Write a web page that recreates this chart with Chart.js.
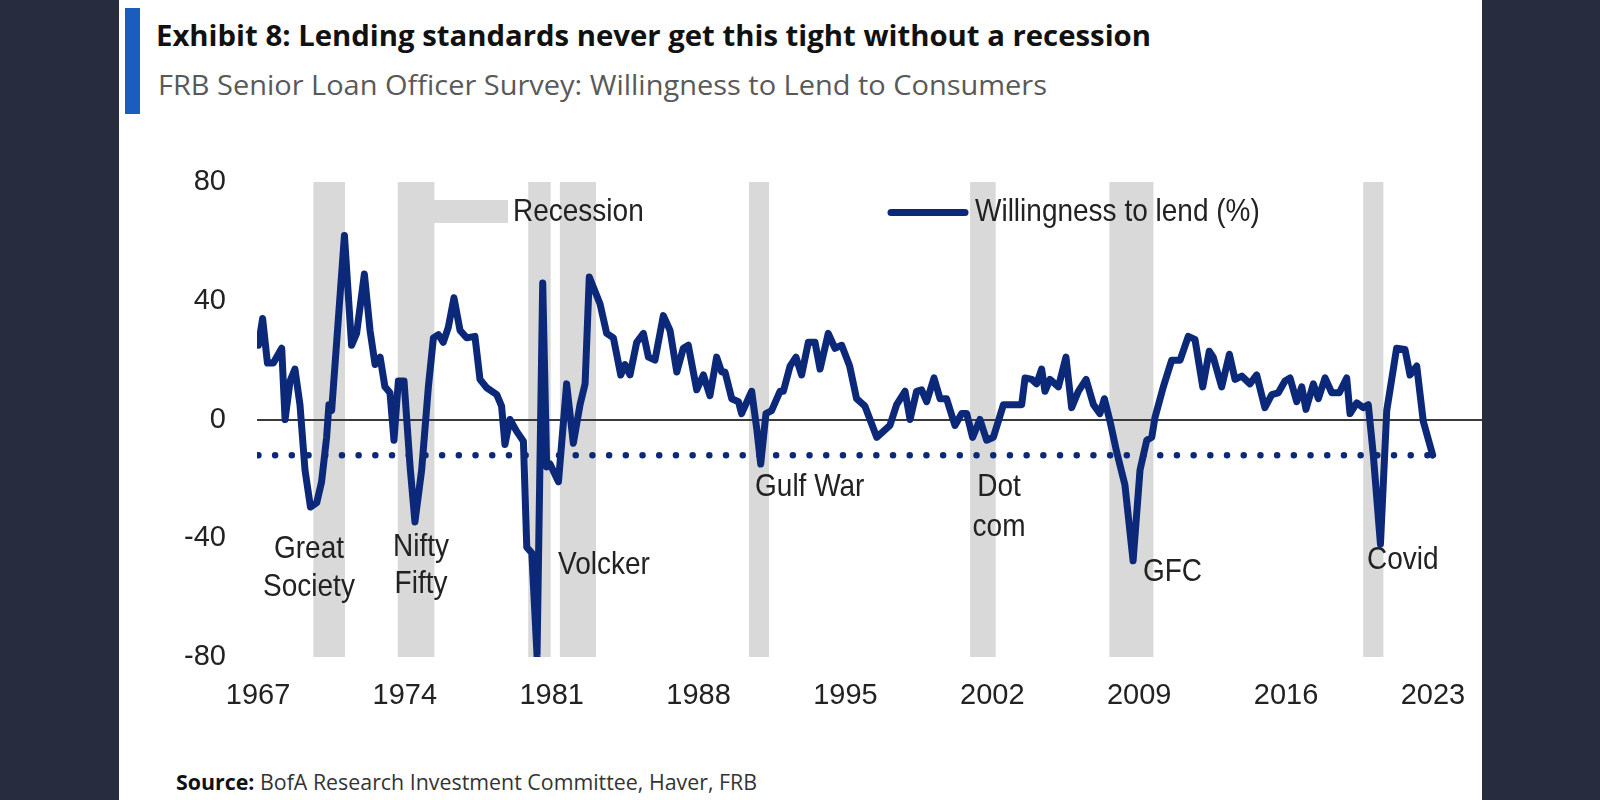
<!DOCTYPE html>
<html>
<head>
<meta charset="utf-8">
<script src="https://cdn.jsdelivr.net/npm/chart.js@4.4.0/dist/chart.umd.min.js"></script>
<style>
html,body{margin:0;padding:0;width:1600px;height:800px;overflow:hidden;background:#272c3e;}
#panel{position:absolute;left:119px;top:0;width:1363px;height:800px;background:#ffffff;}
#bar{position:absolute;left:125px;top:8px;width:15px;height:106px;background:#1b5dbf;}
.t{position:absolute;white-space:nowrap;transform-origin:0 0;line-height:1;font-family:'Open Sans',sans-serif;}
#title{left:156px;top:20px;font-size:29px;font-weight:700;color:#111;}
#subtitle{left:158px;top:70px;font-size:28px;font-weight:400;color:#595959;}
#source{left:176px;top:770px;font-size:22px;font-weight:400;color:#333;}
#source b{font-weight:700;color:#111;}
#c{position:absolute;left:0;top:0;}
</style>
</head>
<body>
<div id="panel"></div>
<div id="bar"></div>
<div class="t" id="title" data-w="995">Exhibit 8: Lending standards never get this tight without a recession</div>
<div class="t" id="subtitle" data-w="889">FRB Senior Loan Officer Survey: Willingness to Lend to Consumers</div>
<div class="t" id="source" data-w="581"><b>Source:</b> BofA Research Investment Committee, Haver, FRB</div>
<canvas id="c" width="1600" height="800"></canvas>
<script>
// ---- Data ----
const years = [
 1967.02,1967.22,1967.45,1967.73,1968.13,1968.29,1968.53,1968.76,1969.00,1969.24,
 1969.50,1969.80,1970.03,1970.27,1970.38,1970.51,1971.12,1971.46,1971.70,1972.07,
 1972.34,1972.58,1972.82,1973.05,1973.29,1973.48,1973.69,1973.96,1974.25,1974.48,
 1974.80,1975.12,1975.36,1975.60,1975.83,1976.07,1976.34,1976.63,1976.95,1977.34,
 1977.58,1977.90,1978.38,1978.61,1978.77,1979.01,1979.33,1979.65,1979.81,1980.05,
 1980.30,1980.57,1980.76,1980.92,1981.32,1981.71,1982.03,1982.35,1982.59,1982.79,
 1983.30,1983.62,1983.94,1984.29,1984.49,1984.73,1985.05,1985.37,1985.61,1985.92,
 1986.32,1986.64,1986.96,1987.27,1987.51,1987.91,1988.23,1988.54,1988.86,1989.10,
 1989.26,1989.58,1989.90,1990.05,1990.53,1990.77,1990.96,1991.21,1991.48,1991.88,
 1992.04,1992.36,1992.64,1992.91,1993.23,1993.55,1993.79,1994.18,1994.50,1994.82,
 1995.20,1995.53,1995.93,1996.49,1997.12,1997.44,1997.84,1998.08,1998.39,1998.63,
 1998.87,1999.22,1999.51,1999.82,2000.22,2000.54,2000.78,2001.06,2001.41,2001.73,
 2002.05,2002.53,2003.00,2003.40,2003.56,2003.88,2004.11,2004.35,2004.51,2004.75,
 2005.15,2005.51,2005.78,2006.10,2006.47,2006.82,2007.13,2007.34,2007.61,2007.93,
 2008.32,2008.71,2009.04,2009.36,2009.60,2009.75,2010.15,2010.55,2010.95,2011.34,
 2011.66,2012.03,2012.34,2012.53,2012.93,2013.30,2013.57,2013.89,2014.28,2014.60,
 2014.99,2015.32,2015.63,2015.95,2016.19,2016.51,2016.75,2016.95,2017.30,2017.54,
 2017.86,2018.18,2018.54,2018.89,2019.05,2019.37,2019.68,2019.92,2020.16,2020.50,
 2020.80,2021.27,2021.67,2021.91,2022.23,2022.54,2022.99
];
const willingness = [
 25,34,19,19,24,0,13,17,5,-17,
 -29.5,-28,-21,-6,5,3,62,25,29,49,
 30,18.5,21,11,9,-7,13,13,-16,-34.5,
 -17,11,27.5,28.6,26,31,41,30,27.5,28,
 13.5,10.7,8.4,4.5,-8.4,0,-4,-7.3,-43,-45,
 -79.5,46,-16,-15,-21,12,-8,5,12,48,
 39,29,27.5,15,18.5,15,26,29,21,20,
 35,30,16,24,25,10,15,8,21,16,
 16,7,6,2,9.5,-3,-15,2,3,9.5,
 9.5,18,21,15,26,26,17,29,24,25,
 18,7,4.5,-6,-2,5,9.5,0,9.5,10,
 6,14,7,7,-2,2,2,-6,0,-7,
 -6,5,5,5,14,13.5,12,17,9.5,13.5,
 11,21,4,9.5,13.5,5,2,7,-0.6,-11,
 -22,-47.6,-17,-7,-6,0.6,11,20,20,28,
 27,11,23,21,11,22,13.5,14.6,12,15,
 4,8.4,9,13,14,6,11,3.4,12,7,
 14,9,9,14,2,5.6,4,5,-12,-42,
 3,24,23.6,15,18,-0.6,-12
];
const thresholdValue = -12;
const thresholdYears = [1967.02, 2022.99];
const recessionStart = [1969.64, 1973.66, 1979.88, 1981.39, 1990.40, 2000.94, 2007.58, 2019.68];
const recessionEnd   = [1971.15, 1975.41, 1980.95, 1983.11, 1991.36, 2002.16, 2009.68, 2020.64];
const xTickYears = [1967, 1974, 1981, 1988, 1995, 2002, 2009, 2016, 2023];
const yTickValues = [-80, -40, 0, 40, 80];
const eventNames = [['Great','Society'], ['Nifty','Fifty'], ['Volcker'], ['Gulf War'], ['Dot','com'], ['GFC'], ['Covid']];

// ---- Styling / layout ----
const NAVY = '#0c2878';
const BAND = '#d9d9d9';
const TEXT = '#222222';
const FONT = "'Liberation Sans', Arial, sans-serif";
const STRETCH = 1.15;
// anchors for event labels: [x-year, baseline value of first line, alignment, line gap px]
const eventAnchors = [
  [1969.43, -46.6, 'center', 38],
  [1974.77, -46.0, 'center', 37],
  [1981.30, -52.0, 'left', 0],
  [1990.69, -25.8, 'left', 0],
  [2002.32, -25.8, 'center', 40],
  [2009.18, -54.4, 'left', 0],
  [2019.86, -50.3, 'left', 0]
];

function stretchedText(ctx, text, x, y, align) {
  ctx.save();
  ctx.translate(x, y);
  ctx.scale(1, STRETCH);
  ctx.textAlign = align;
  ctx.textBaseline = 'alphabetic';
  ctx.fillText(text, 0, 0);
  ctx.restore();
}

const bandsPlugin = {
  id: 'bands',
  beforeDraw(chart) {
    const {ctx, chartArea, scales} = chart;
    const x = scales.x;
    ctx.save();
    ctx.fillStyle = BAND;
    recessionStart.forEach((s, i) => {
      const x0 = x.getPixelForValue(s), x1 = x.getPixelForValue(recessionEnd[i]);
      ctx.fillRect(x0, chartArea.top, x1 - x0, chartArea.bottom - chartArea.top);
    });
    // legend: recession swatch
    ctx.fillRect(434, 200, 74, 23);
    ctx.restore();
  },
  afterDatasetsDraw(chart) {
    const {ctx, scales} = chart;
    ctx.save();
    ctx.fillStyle = TEXT;
    ctx.font = '28px ' + FONT;
    // legend texts
    stretchedText(ctx, 'Recession', 513, 221, 'left');
    ctx.strokeStyle = NAVY;
    ctx.lineWidth = 7;
    ctx.lineCap = 'round';
    ctx.beginPath();
    ctx.moveTo(891, 212.5);
    ctx.lineTo(965, 212.5);
    ctx.stroke();
    stretchedText(ctx, 'Willingness to lend (%)', 975, 221, 'left');
    // event labels
    eventNames.forEach((lines, i) => {
      const a = eventAnchors[i];
      const px = scales.x.getPixelForValue(a[0]);
      const py = scales.y.getPixelForValue(a[1]);
      lines.forEach((t, j) => stretchedText(ctx, t, px, py + j * a[3], a[2]));
    });
    ctx.restore();
  }
};

Chart.defaults.font.family = FONT;

new Chart(document.getElementById('c'), {
  type: 'line',
  data: {
    datasets: [
      {
        label: 'Willingness to lend (%)',
        data: years.map((yr, i) => ({x: yr, y: willingness[i]})),
        borderColor: NAVY,
        borderWidth: 7,
        pointRadius: 0,
        tension: 0,
        borderJoinStyle: 'round',
        borderCapStyle: 'round',
        order: 1
      },
      {
        label: 'Threshold',
        data: thresholdYears.map(yr => ({x: yr, y: thresholdValue})),
        borderColor: NAVY,
        borderWidth: 6.5,
        borderDash: [0, 16.7],
        borderCapStyle: 'round',
        pointRadius: 0,
        order: 2
      }
    ]
  },
  options: {
    responsive: false,
    animation: false,
    devicePixelRatio: 1,
    layout: { padding: { left: 140, right: 118, top: 182, bottom: 83 } },
    plugins: { legend: { display: false }, tooltip: { enabled: false } },
    scales: {
      x: {
        type: 'linear',
        min: 1966.952,
        max: 2025.34,
        afterBuildTicks: s => { s.ticks = xTickYears.map(v => ({value: v})); },
        afterFit: s => { s.height = 60; },
        grid: { display: false, drawTicks: false },
        border: { display: false },
        ticks: { font: { size: 29 }, color: TEXT, padding: 22, maxRotation: 0, autoSkip: false, callback: v => String(v) }
      },
      y: {
        min: -80,
        max: 80,
        afterBuildTicks: s => { s.ticks = yTickValues.map(v => ({value: v})); },
        afterFit: s => { s.width = 117; },
        grid: {
          drawTicks: false,
          lineWidth: 2,
          color: c => (c.tick && c.tick.value === 0) ? '#3a3a3a' : 'rgba(0,0,0,0)'
        },
        border: { display: false },
        ticks: { font: { size: 29 }, color: TEXT, padding: 31, callback: v => String(v) }
      }
    }
  },
  plugins: [bandsPlugin]
});

// fit header/footer text widths to the reference
document.querySelectorAll('.t').forEach(el => {
  const target = parseFloat(el.dataset.w);
  const w = el.getBoundingClientRect().width;
  if (w > 0) el.style.transform = 'scaleX(' + (target / w) + ')';
});
</script>
</body>
</html>
